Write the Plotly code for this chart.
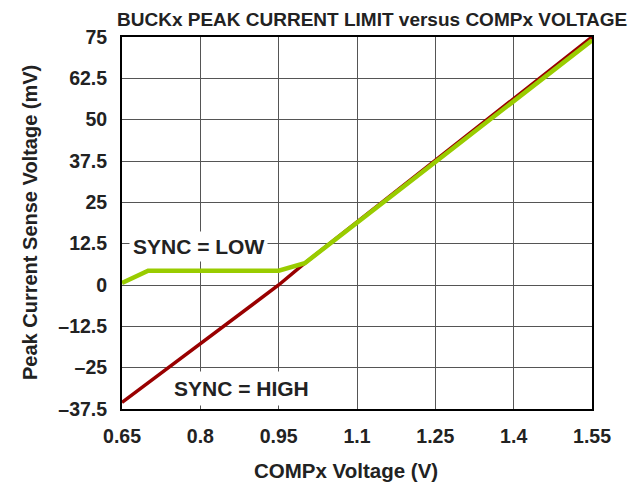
import plotly.graph_objects as go

# Data
high_x = [0.65, 0.95, 1.0, 1.25, 1.55]
high_y = [-35.5, 0.0, 6.6, 37.8, 75.0]

low_x = [0.65, 0.70, 0.95, 1.0, 1.25, 1.55]
low_y = [0.6, 4.3, 4.3, 6.6, 37.2, 74.0]

x_ticks = [0.65, 0.8, 0.95, 1.1, 1.25, 1.4, 1.55]
x_tick_text = ["0.65", "0.8", "0.95", "1.1", "1.25", "1.4", "1.55"]
y_ticks = [-37.5, -25, -12.5, 0, 12.5, 25, 37.5, 50, 62.5, 75]
y_tick_text = ["\u201337.5", "\u201325", "\u201312.5", "0", "12.5", "25", "37.5", "50", "62.5", "75"]

FONT = "Liberation Sans, Arial, sans-serif"
TXT = "#222222"
OFF = 8  # page body margin
W, H = 642 - OFF, 487 - OFF
L, R, T, B = 122 - OFF, 50, 37 - OFF, 78

fig = go.Figure()
fig.add_trace(go.Scatter(x=high_x, y=high_y, mode="lines",
                         line=dict(color="#990000", width=3.5), showlegend=False))
fig.add_trace(go.Scatter(x=low_x, y=low_y, mode="lines",
                         line=dict(color="#99CC00", width=4.5), showlegend=False))

fig.add_annotation(x=0.663, y=11.6, xref="x", yref="y", text="SYNC = LOW",
                   showarrow=False, xanchor="left", yanchor="middle",
                   font=dict(family=FONT, size=21, color=TXT, weight="bold"),
                   bgcolor="white", borderpad=3)
fig.add_annotation(x=0.738, y=-31.4, xref="x", yref="y", text="SYNC = HIGH",
                   showarrow=False, xanchor="left", yanchor="middle",
                   font=dict(family=FONT, size=21, color=TXT, weight="bold"),
                   bgcolor="white", borderpad=5)

pw, ph = W - L - R, H - T - B
def px(xp):
    return (xp - OFF - L) / pw
def py(yp):
    return ((H - B) - (yp - OFF)) / ph

fig.add_annotation(x=px(346), y=py(470), xref="paper", yref="paper",
                   text="COMPx Voltage (V)", showarrow=False,
                   xanchor="center", yanchor="middle",
                   font=dict(family=FONT, size=20.5, color=TXT, weight="bold"))
fig.add_annotation(x=px(30), y=py(223), xref="paper", yref="paper",
                   text="Peak Current Sense Voltage (mV)", showarrow=False, textangle=-90,
                   xanchor="center", yanchor="middle",
                   font=dict(family=FONT, size=20, color=TXT, weight="bold"))
fig.add_annotation(x=px(372), y=py(8), xref="paper", yref="paper",
                   text="BUCKx PEAK CURRENT LIMIT versus COMPx VOLTAGE", showarrow=False,
                   xanchor="center", yanchor="top", borderpad=0,
                   font=dict(family=FONT, size=19, color=TXT, weight="bold"))

fig.update_layout(
    width=W, height=H,
    margin=dict(l=L, r=R, t=T, b=B, autoexpand=False),
    paper_bgcolor="white", plot_bgcolor="white",
    font=dict(family=FONT, color=TXT),
)

fig.update_xaxes(range=[0.65, 1.55], tickvals=x_ticks, ticktext=x_tick_text,
                 showgrid=True, gridcolor="#555555", gridwidth=1.2,
                 showline=True, linecolor="black", linewidth=2, mirror=True,
                 ticks="", ticklabelstandoff=9, zeroline=False, automargin=False,
                 tickfont=dict(family=FONT, size=19.5, color=TXT, weight="bold"))
fig.update_yaxes(range=[-37.5, 75], tickvals=y_ticks, ticktext=y_tick_text,
                 showgrid=True, gridcolor="#555555", gridwidth=1.2,
                 showline=True, linecolor="black", linewidth=2, mirror=True,
                 ticks="", ticklabelstandoff=9, zeroline=False, automargin=False,
                 tickfont=dict(family=FONT, size=19.5, color=TXT, weight="bold"))

fig.write_html("out.html")
